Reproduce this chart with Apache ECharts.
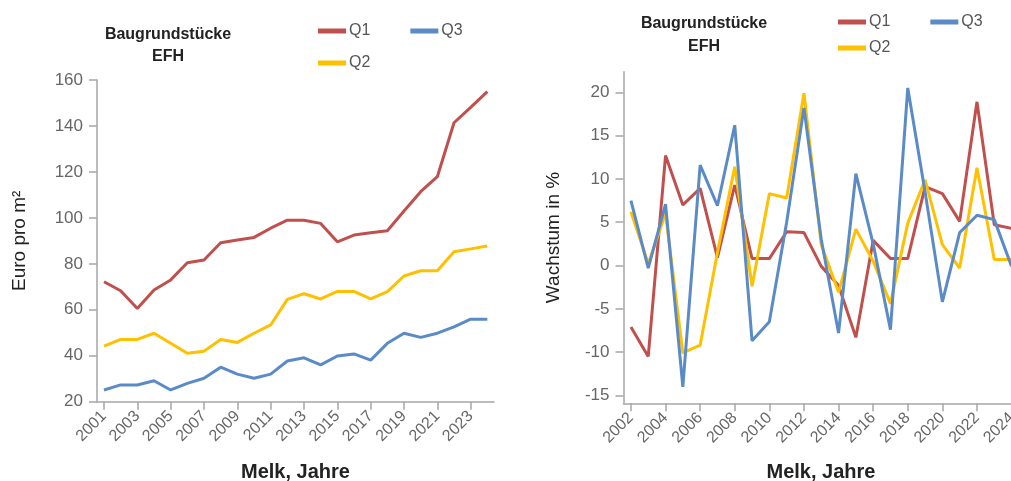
<!DOCTYPE html>
<html><head><meta charset="utf-8">
<script src="https://cdn.jsdelivr.net/npm/echarts@6/dist/echarts.min.js"></script>
<style>html,body{margin:0;padding:0;background:#fff}#c{width:1011px;height:481px}</style>
</head><body><div id="c"></div>
<script>
// ---- data ----
const levelYears = [2001,2002,2003,2004,2005,2006,2007,2008,2009,2010,2011,2012,2013,2014,2015,2016,2017,2018,2019,2020,2021,2022,2023,2024];
const levelQ1 = [72.2,68.3,60.6,68.6,73.0,80.5,81.7,89.2,90.4,91.5,95.5,99.0,99.0,97.6,89.6,92.5,93.5,94.4,103.0,111.4,117.9,141.4,148.1,154.9];
const levelQ2 = [44.2,47.1,47.1,49.8,45.4,41.1,42.0,47.1,45.8,49.8,53.4,64.5,67.0,64.7,68.0,68.0,64.7,67.9,74.7,77.0,77.0,85.3,86.5,87.8];
const levelQ3 = [25.1,27.3,27.3,29.1,25.1,28.0,30.2,35.0,32.0,30.2,32.0,37.7,39.1,36.0,39.9,40.8,38.1,45.4,49.8,48.0,49.8,52.6,55.9,55.9];

const growthYears = [2002,2003,2004,2005,2006,2007,2008,2009,2010,2011,2012,2013,2014,2015,2016,2017,2018,2019,2020,2021,2022,2023,2024];
const growthQ1 = [-7.1,-10.5,12.7,7.0,8.9,0.9,9.3,0.8,0.8,3.9,3.8,-0.1,-2.3,-8.3,2.9,0.8,0.8,9.1,8.3,5.1,18.9,4.7,4.3];
const growthQ2 = [6.2,0.2,6.0,-10.1,-9.2,1.5,11.4,-2.4,8.3,7.8,19.9,2.4,-3.1,4.2,0.5,-4.4,4.9,9.9,2.4,-0.3,11.3,0.7,0.7];
const growthQ3 = [7.5,-0.3,7.1,-14.0,11.6,6.9,16.2,-8.7,-6.5,5.0,18.2,3.0,-7.8,10.6,2.5,-7.4,20.5,8.5,-4.2,3.8,5.8,5.3,-0.1];

const levelXTicks = [2001,2003,2005,2007,2009,2011,2013,2015,2017,2019,2021,2023];
const growthXTicks = [2002,2004,2006,2008,2010,2012,2014,2016,2018,2020,2022,2024];
const growthYTicks = [-15,-10,-5,0,5,10,15,20];

const colors = {Q1:'#c0504d', Q2:'#ffc000', Q3:'#5b8bc6'};
const titleLines = ['Baugrundstücke','EFH'];

// ---- helpers ----
const pairs = (xs, ys) => xs.map((x, i) => [x, ys[i]]);
const FONT = 'Liberation Sans';
const axisGray = '#a6a6a6';
const labelGray = '#666';

function xAxisCfg(gi, min, max, ticks, nameGap) {
  return {
    type: 'value', gridIndex: gi, min: min, max: max,
    name: 'Melk, Jahre', nameLocation: 'middle', nameGap: nameGap,
    nameTextStyle: {fontFamily: FONT, fontSize: 20, fontWeight: 'bold', color: '#222'},
    axisLine: {onZero: false, lineStyle: {color: axisGray, width: 1.5}},
    axisTick: {customValues: ticks, length: 8, lineStyle: {color: axisGray, width: 1.5}},
    axisLabel: {customValues: ticks, rotate: 45, margin: 12, formatter: v => String(v),
      fontFamily: FONT, fontSize: 16, color: labelGray},
    splitLine: {show: false}
  };
}
function yAxisCfg(gi, cfg) {
  return Object.assign({
    type: 'value', gridIndex: gi, nameLocation: 'middle',
    nameTextStyle: {fontFamily: FONT, fontSize: 19, color: '#222'},
    axisLine: {show: true, lineStyle: {color: axisGray, width: 1.5}},
    axisTick: {show: true, length: 8, lineStyle: {color: axisGray, width: 1.5}},
    axisLabel: {margin: 14, fontFamily: FONT, fontSize: 17, color: labelGray},
    splitLine: {show: false}
  }, cfg);
}
function lineSeries(name, data, gi) {
  return {
    type: 'line', name: name, xAxisIndex: gi, yAxisIndex: gi, data: data,
    showSymbol: false, symbol: 'none', smooth: false, animation: false,
    lineStyle: {width: 3, color: colors[name]}, itemStyle: {color: colors[name]}
  };
}
function legendCfg(names, left, top) {
  return {
    data: names, left: left, top: top, icon: 'rect', itemWidth: 28, itemHeight: 5,
    itemGap: 40, orient: 'horizontal', selectedMode: false,
    textStyle: {fontFamily: FONT, fontSize: 16, color: '#555', padding: [0, 0, 0, -2]}
  };
}
function titleText(x, y, text) {
  return {type: 'text', x: x, y: y, style: {text: text, textAlign: 'center', textVerticalAlign: 'middle',
    font: 'bold 16px "' + FONT + '"', fill: '#222'}};
}

const chart = echarts.init(document.getElementById('c'), null, {renderer: 'canvas'});
chart.setOption({
  backgroundColor: '#fff',
  animation: false,
  grid: [
    {left: 97, right: 517, top: 80, bottom: 79.3, outerBoundsMode: 'none', containLabel: false},
    {left: 623.5, right: -7.5, top: 71.7, bottom: 77.7, outerBoundsMode: 'none', containLabel: false}
  ],
  xAxis: [
    xAxisCfg(0, 2000.58, 2024.4, levelXTicks, 61),
    xAxisCfg(1, 2001.57, 2024.4, growthXTicks, 59)
  ],
  yAxis: [
    yAxisCfg(0, {min: 20, max: 160, interval: 20, name: 'Euro pro m²', nameGap: 68}),
    yAxisCfg(1, {min: -15.91, max: 22.38, name: 'Wachstum in %', nameGap: 60,
      axisTick: {show: true, customValues: growthYTicks, length: 8, lineStyle: {color: axisGray, width: 1.5}},
      axisLabel: {customValues: growthYTicks, margin: 14, fontFamily: FONT, fontSize: 17, color: labelGray}})
  ],
  legend: [
    legendCfg(['Q1','Q3'], 313, 18),
    legendCfg(['Q2'], 313, 50),
    legendCfg(['Q1','Q3'], 833, 9),
    legendCfg(['Q2'], 833, 35)
  ],
  graphic: [
    titleText(168, 35, titleLines[0]),
    titleText(168, 57, titleLines[1]),
    titleText(704, 24, titleLines[0]),
    titleText(704, 47, titleLines[1])
  ],
  series: [
    lineSeries('Q1', pairs(levelYears, levelQ1), 0),
    lineSeries('Q2', pairs(levelYears, levelQ2), 0),
    lineSeries('Q3', pairs(levelYears, levelQ3), 0),
    lineSeries('Q1', pairs(growthYears, growthQ1), 1),
    lineSeries('Q2', pairs(growthYears, growthQ2), 1),
    lineSeries('Q3', pairs(growthYears, growthQ3), 1)
  ]
});
</script>
</body></html>
